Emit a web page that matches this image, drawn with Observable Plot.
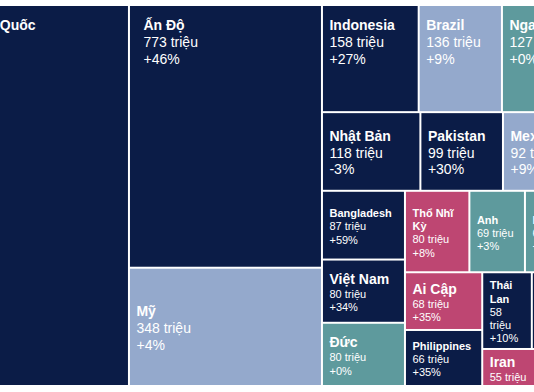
<!DOCTYPE html>
<html>
<head>
<meta charset="utf-8">
<script src="https://cdn.jsdelivr.net/npm/d3@7"></script>
<script src="https://cdn.jsdelivr.net/npm/@observablehq/plot@0.6"></script>
<style>
  html, body { margin: 0; padding: 0; background: #ffffff; overflow: hidden; }
  #chart svg { display: block; }
</style>
</head>
<body>
<div id="chart"></div>
<script>
// ---- Data (millions; change in %) ----
const countries = ["Trung Quốc", "Ấn Độ", "Mỹ", "Indonesia", "Brazil", "Nga", "Nhật Bản", "Pakistan", "Mexico",
  "Bangladesh", "Việt Nam", "Đức", "Thổ Nhĩ Kỳ", "Anh", "Pháp", "Ai Cập", "Philippines", "Thái Lan", "Hàn Quốc", "Iran"];
const values = [1083, 773, 348, 158, 136, 127, 118, 99, 92, 87, 80, 80, 80, 69, 68, 68, 66, 58, 56, 55];
const changes = [8, 46, 4, 27, 9, 0, -3, 30, 9, 59, 34, 0, 8, 3, 5, 35, 35, 10, -2, null];
const regions = ["Châu Á", "Châu Á", "Châu Mỹ", "Châu Á", "Châu Mỹ", "Châu Âu", "Châu Á", "Châu Á", "Châu Mỹ",
  "Châu Á", "Châu Á", "Châu Âu", "Trung Đông & Châu Phi", "Châu Âu", "Châu Âu", "Trung Đông & Châu Phi",
  "Châu Á", "Châu Á", "Châu Á", "Trung Đông & Châu Phi"];
const regionNames = ["Châu Á", "Châu Mỹ", "Châu Âu", "Trung Đông & Châu Phi"];

// ---- Treemap nesting (slice/dice alternating by depth) ----
const layoutGroups = [
  "Trung Quốc",
  ["Ấn Độ", "Mỹ"],
  [
    ["Indonesia", "Brazil", "Nga"],
    ["Nhật Bản", "Pakistan", "Mexico"],
    [
      ["Bangladesh", "Việt Nam", "Đức"],
      [
        ["Thổ Nhĩ Kỳ", "Anh", "Pháp"],
        [
          ["Ai Cập", "Philippines"],
          [["Thái Lan", "Hàn Quốc"], "Iran"]
        ]
      ]
    ]
  ]
];

// ---- Styles ----
const regionColors = ["#0b1c47", "#94a9cc", "#5e9a9d", "#be4672"];
const FONT = '"Liberation Sans", Arial, Helvetica, sans-serif';
const LH = 1.2;

// ---- Layout via d3.treemap ----
const index = new Map(countries.map((c, i) => [c, i]));
function toNode(g) {
  return Array.isArray(g) ? {children: g.map(toNode)} : {name: g, i: index.get(g)};
}
const root = d3.hierarchy(toNode(layoutGroups)).sum(d => d.children ? 0 : values[d.i]);
d3.treemap().size([637.2, 381]).tile(d3.treemapSliceDice)(root);

const tiles = root.leaves().map(n => ({
  name: n.data.name,
  i: n.data.i,
  region: regions[n.data.i],
  x0: n.x0, x1: n.x1, y0: n.y0, y1: n.y1
}));

// ---- Label fitting ----
const ctx = document.createElement("canvas").getContext("2d");
function measure(t, fs, bold) {
  ctx.font = `${bold ? "bold " : ""}${fs}px ${FONT}`;
  return ctx.measureText(t).width;
}
function wrap(t, fs, bold, maxW) {
  const words = t.split(" ");
  const lines = [];
  let cur = "";
  for (const w of words) {
    const test = cur ? cur + " " + w : w;
    if (!cur || measure(test, fs, bold) <= maxW) cur = test;
    else { lines.push(cur); cur = w; }
  }
  if (cur) lines.push(cur);
  return lines;
}
function fmtValue(v) {
  return v >= 1000 ? (v / 1000).toFixed(2).replace(".", ",") + " tỷ" : v + " triệu";
}
function fmtChange(c) {
  if (c == null) return null;
  return (c < 0 ? "-" : "+") + Math.abs(c) + "%";
}

const labels = tiles.map(d => {
  const w = d.x1 - d.x0, h = d.y1 - d.y0;
  const huge = w > 150 && h > 150;
  const padX = huge ? 14 : 7;
  const avail = w - padX - 8;
  const large = w >= 75 && h >= 75;
  const tfs = large ? 14 : (w >= 70 && measure(d.name, 14, true) <= avail ? 14 : 11);
  const vfs = large ? 14 : 11;
  const tLines = wrap(d.name, tfs, true, avail);
  const vLines = [fmtValue(values[d.i]), fmtChange(changes[d.i])]
    .filter(Boolean)
    .flatMap(s => wrap(s, vfs, false, avail));
  const blockH = () => tLines.length * tfs * LH + vLines.length * vfs * LH;
  while (vLines.length && blockH() > h - 4) vLines.pop();
  const top = d.y0 === 0 ? d.y0 + 12.5 : (d.y0 + d.y1) / 2 - blockH() / 2 + 2;
  return {
    tx: d.x0 + padX,
    ty: top,
    vy: top + tLines.length * tfs * LH,
    title: tLines.join("\n"),
    vals: vLines.join("\n"),
    tfs, vfs
  };
});

// ---- Plot ----
const chart = Plot.plot({
  width: 534,
  height: 392,
  margin: 0,
  style: {fontFamily: FONT, background: "#ffffff"},
  x: {domain: [57.5, 591.5], range: [0, 534], axis: null},
  y: {domain: [-5, 387], range: [0, 392], axis: null},
  color: {domain: regionNames, range: regionColors},
  marks: [
    Plot.rect(tiles, {
      x1: "x0", x2: "x1", y1: "y0", y2: "y1",
      fill: "region",
      inset: 1
    }),
    Plot.text(labels, {
      x: "tx", y: "ty", text: "title",
      fontSize: d => d.tfs,
      fontWeight: "bold",
      fill: "white",
      textAnchor: "start",
      lineAnchor: "top",
      lineHeight: LH
    }),
    Plot.text(labels, {
      x: "tx", y: "vy", text: "vals",
      fontSize: d => d.vfs,
      fill: "white",
      textAnchor: "start",
      lineAnchor: "top",
      lineHeight: LH
    })
  ]
});
document.getElementById("chart").appendChild(chart);
</script>
</body>
</html>
